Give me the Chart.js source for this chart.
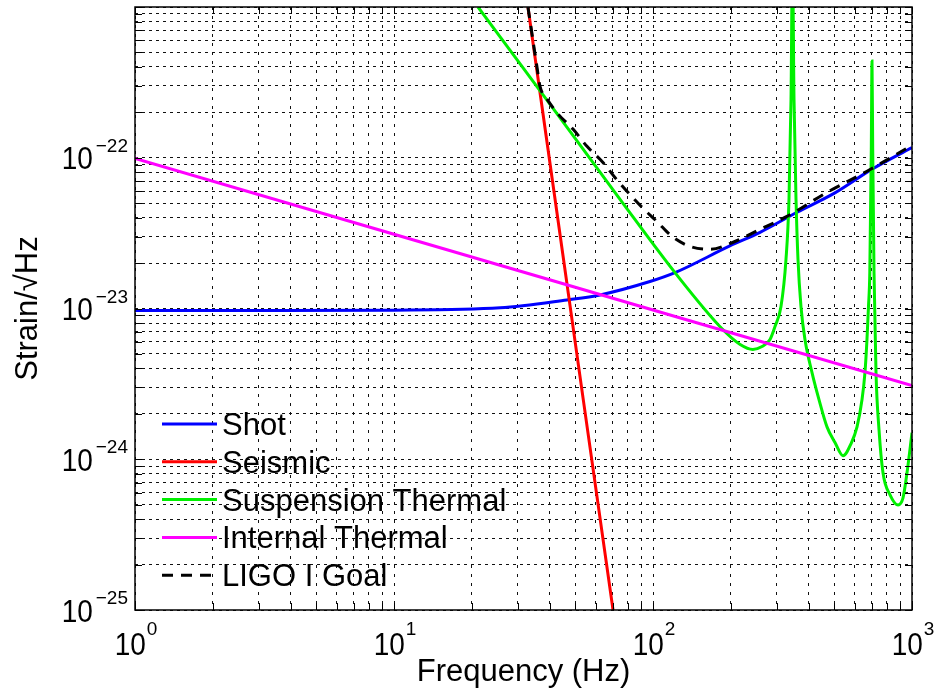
<!DOCTYPE html>
<html>
<head>
<meta charset="utf-8">
<script src="https://cdn.jsdelivr.net/npm/chart.js@4.4.1/dist/chart.umd.min.js"></script>
<style>
html, body { margin: 0; padding: 0; background: #fff; }
#wrap { width: 939px; height: 694px; }
</style>
</head>
<body>
<div id="wrap"><canvas id="noiseChart" width="939" height="694"></canvas></div>
<script>
// values: frequency in Hz, strain in 1/sqrt(Hz)
var shotFreq = [1, 3, 10, 25.7, 46.5, 62.4, 97.3, 121.6, 198, 259, 360, 500, 701, 1000];
var shotStrain = [9.7e-24, 9.7e-24, 9.75e-24, 1.01e-23, 1.14e-23, 1.23e-23, 1.51e-23, 1.73e-23, 2.6e-23, 3.2e-23, 4.35e-23, 5.8e-23, 8.4e-23, 1.17e-22];

var seismicFreq = [32.9, 41.5, 53.9, 70.1];
var seismicStrain = [1.0e-21, 5.9e-23, 2.43e-24, 1.0e-25];

var suspFreq = [21.1, 40, 74.6, 121.6, 186, 217, 243, 263.6, 283, 295.8, 312, 326.2, 335, 341.1, 345.6, 350.3, 356.6, 362.9, 372.7, 386.2, 411.1, 437.4, 469.7, 504.3, 541.6, 581.6, 613.4, 641.3, 658.2, 670.1, 679.2, 687.1, 696.4, 700.8, 705.2, 713.4, 726.1, 745.8, 772.7, 822.5, 883.1, 923.2, 956.6, 1000];
var suspStrain = [1.0e-21, 2.27e-22, 5.3e-23, 1.73e-23, 7.25e-24, 5.77e-24, 5.35e-24, 5.59e-24, 6.22e-24, 7.59e-24, 1.03e-23, 2.12e-23, 5.3e-23, 2.45e-22, 2e-21, 2.45e-22, 5.3e-23, 2.12e-23, 1.03e-23, 6.22e-24, 3.76e-24, 2.49e-24, 1.64e-24, 1.29e-24, 1.055e-24, 1.27e-24, 1.64e-24, 2.49e-24, 3.76e-24, 6.22e-24, 1.03e-23, 1.73e-23, 1.14e-22, 4.38e-22, 1.14e-22, 1.73e-23, 3.76e-24, 1.57e-24, 8.13e-25, 5.81e-25, 4.98e-25, 5.55e-25, 8.13e-25, 1.5e-24];

var internalFreq = [1, 10, 100, 1000];
var internalStrain = [9.9e-23, 3.11e-23, 9.77e-24, 3.08e-24];

var goalFreq = [32.9, 35.6, 36.6, 39.0, 43.0, 49.1, 55.6, 64.1, 71.3, 80.0, 90.7, 103.5, 118.3, 139, 166, 204, 259, 329, 470, 670, 1000];
var goalStrain = [1.0e-21, 4.06e-22, 2.99e-22, 2.45e-22, 1.95e-22, 1.55e-22, 1.19e-22, 9.3e-23, 7.4e-23, 5.9e-23, 4.69e-23, 3.78e-23, 3.01e-23, 2.58e-23, 2.47e-23, 2.75e-23, 3.35e-23, 4.08e-23, 5.9e-23, 8.13e-23, 1.21e-22];

var seriesNames = ['Shot', 'Seismic', 'Suspension Thermal', 'Internal Thermal', 'LIGO I Goal'];

// decade tick labels, drawn as 10 with a raised exponent
var xTickValues = [1, 10, 100, 1000];
var xTickExps = ['0', '1', '2', '3'];
var yTickValues = [1e-25, 1e-24, 1e-23, 1e-22];
var yTickExps = ['\u221225', '\u221224', '\u221223', '\u221222'];

var FONT = '"Liberation Sans", Arial, Helvetica, sans-serif';

function toPoints(xs, ys) {
	return xs.map(function(x, i) { return {x: x, y: ys[i]}; });
}

// 1..9 times each decade, for the dotted grid
function gridValues(lo, hi) {
	var out = [];
	for (var e = lo; e < hi; e++) {
		for (var m = 1; m < 10; m++) out.push(m * Math.pow(10, e));
	}
	out.push(Math.pow(10, hi));
	return out;
}

var framePlugin = {
	id: 'frame',
	afterDraw: function(chart) {
		var ctx = chart.ctx, a = chart.chartArea;
		var xs = chart.scales.x, ys = chart.scales.y;
		ctx.save();

		// inward tick marks on all four sides
		ctx.strokeStyle = '#000';
		ctx.lineWidth = 1;
		ctx.setLineDash([]);
		ctx.beginPath();
		xs.ticks.forEach(function(t) {
			var p = Math.round(xs.getPixelForValue(t.value)) + 0.5;
			ctx.moveTo(p, a.bottom); ctx.lineTo(p, a.bottom - 7);
			ctx.moveTo(p, a.top); ctx.lineTo(p, a.top + 7);
		});
		ys.ticks.forEach(function(t) {
			var p = Math.round(ys.getPixelForValue(t.value)) + 0.5;
			ctx.moveTo(a.left, p); ctx.lineTo(a.left + 7, p);
			ctx.moveTo(a.right, p); ctx.lineTo(a.right - 7, p);
		});
		ctx.stroke();

		ctx.lineWidth = 1.5;
		ctx.strokeRect(a.left, a.top, a.right - a.left, a.bottom - a.top);

		// tick labels
		ctx.fillStyle = '#000';
		ctx.textBaseline = 'alphabetic';
		ctx.textAlign = 'left';
		var i, we, wb;
		for (i = 0; i < yTickValues.length; i++) {
			var py = ys.getPixelForValue(yTickValues[i]);
			ctx.font = '19px ' + FONT;
			we = ctx.measureText(yTickExps[i]).width;
			ctx.fillText(yTickExps[i], a.left - 7 - we, py - 6);
			ctx.font = '28px ' + FONT;
			wb = ctx.measureText('10').width;
			ctx.save();
			ctx.translate(a.left - 7 - we - 3 - wb, py + 11.5);
			ctx.scale(1, 1.15);
			ctx.fillText('10', 0, 0);
			ctx.restore();
		}
		for (i = 0; i < xTickValues.length; i++) {
			var px = xs.getPixelForValue(xTickValues[i]);
			ctx.font = '19px ' + FONT;
			we = ctx.measureText(xTickExps[i]).width;
			ctx.font = '28px ' + FONT;
			wb = ctx.measureText('10').width;
			var start = px - (wb + 1 + we) / 2 + 1;
			ctx.save();
			ctx.translate(start, a.bottom + 45);
			ctx.scale(1, 1.15);
			ctx.fillText('10', 0, 0);
			ctx.restore();
			ctx.font = '19px ' + FONT;
			ctx.fillText(xTickExps[i], start + wb + 1, a.bottom + 25);
		}

		// legend inside the lower left corner, no box
		ctx.font = '31px ' + FONT;
		chart.data.datasets.forEach(function(ds, k) {
			var ry = a.bottom - 186 + k * 37.8;
			ctx.strokeStyle = ds.borderColor;
			ctx.lineWidth = 3;
			ctx.setLineDash(ds.borderDash || []);
			ctx.beginPath();
			ctx.moveTo(a.left + 27, ry);
			ctx.lineTo(a.left + 82, ry);
			ctx.stroke();
			ctx.setLineDash([]);
			ctx.fillStyle = '#000';
			ctx.fillText(ds.label, a.left + 87, ry + 11);
		});
		ctx.restore();
	}
};

var lineStyle = {
	borderWidth: 3,
	pointRadius: 0,
	fill: false,
	clip: 0
};

var ctx = document.getElementById('noiseChart').getContext('2d');
var noiseChart = new Chart(ctx, {
	type: 'line',
	data: {
		datasets: [
			Object.assign({label: seriesNames[0], data: toPoints(shotFreq, shotStrain), borderColor: '#0000ff', cubicInterpolationMode: 'monotone', order: 5}, lineStyle),
			Object.assign({label: seriesNames[1], data: toPoints(seismicFreq, seismicStrain), borderColor: '#ff0000', tension: 0, order: 4}, lineStyle),
			Object.assign({label: seriesNames[2], data: toPoints(suspFreq, suspStrain), borderColor: '#00f000', cubicInterpolationMode: 'monotone', order: 3}, lineStyle),
			Object.assign({label: seriesNames[3], data: toPoints(internalFreq, internalStrain), borderColor: '#ff00ff', tension: 0, order: 2}, lineStyle),
			Object.assign({label: seriesNames[4], data: toPoints(goalFreq, goalStrain), borderColor: '#000000', borderDash: [11, 8], cubicInterpolationMode: 'monotone', order: 1}, lineStyle)
		]
	},
	options: {
		responsive: false,
		devicePixelRatio: 1,
		animation: false,
		layout: { padding: { left: 0, right: 27, top: 7, bottom: 0 } },
		plugins: { legend: { display: false }, tooltip: { enabled: false } },
		scales: {
			x: {
				type: 'logarithmic',
				min: 1,
				max: 1000,
				afterBuildTicks: function(s) { s.ticks = gridValues(0, 3).map(function(v) { return {value: v}; }); },
				afterFit: function(s) { s.height = 84; },
				ticks: { display: false },
				grid: { color: '#111', lineWidth: 1, drawTicks: false },
				border: { display: false, dash: [3, 6] },
				title: { display: true, text: 'Frequency (Hz)', color: '#000', font: { family: FONT, size: 31 }, padding: { top: 0, bottom: 3 } }
			},
			y: {
				type: 'logarithmic',
				min: 1e-25,
				max: 1e-21,
				afterBuildTicks: function(s) { s.ticks = gridValues(-25, -21).map(function(v) { return {value: v}; }); },
				afterFit: function(s) { s.width = 135; },
				ticks: { display: false },
				grid: { color: '#111', lineWidth: 1, drawTicks: false },
				border: { display: false, dash: [3, 4] },
				title: { display: true, text: 'Strain/\u221AHz', color: '#000', font: { family: FONT, size: 31 }, padding: { top: 10, bottom: 0 } }
			}
		}
	},
	plugins: [framePlugin]
});
</script>
</body>
</html>
